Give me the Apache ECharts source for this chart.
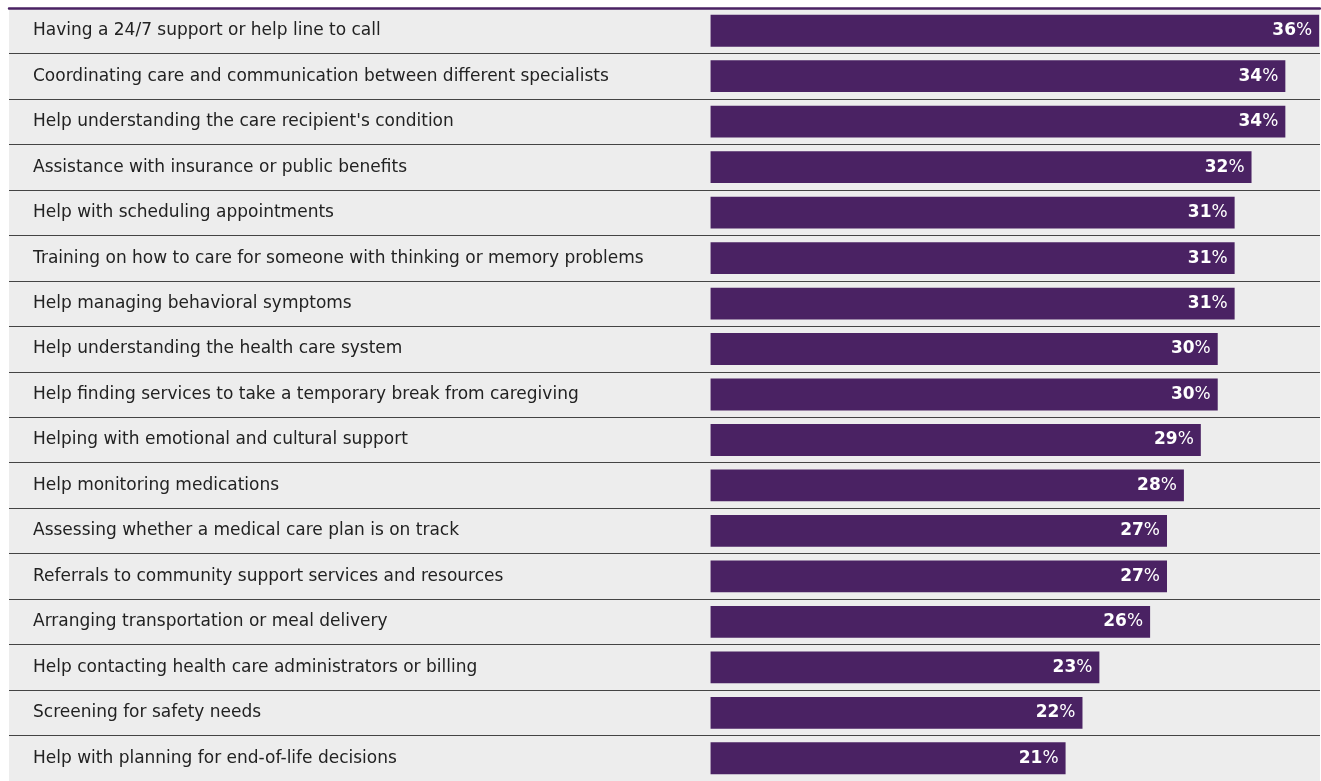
<!DOCTYPE html>
<html><head><meta charset="utf-8">
<script src="https://cdn.jsdelivr.net/npm/echarts@6/dist/echarts.min.js"></script>
<style>html,body{margin:0;padding:0;background:#fff}#c{width:1321px;height:781px}</style>
</head><body><div id="c"></div>
<script>
const categories = [
  "Having a 24/7 support or help line to call",
  "Coordinating care and communication between different specialists",
  "Help understanding the care recipient's condition",
  "Assistance with insurance or public benefits",
  "Help with scheduling appointments",
  "Training on how to care for someone with thinking or memory problems",
  "Help managing behavioral symptoms",
  "Help understanding the health care system",
  "Help finding services to take a temporary break from caregiving",
  "Helping with emotional and cultural support",
  "Help monitoring medications",
  "Assessing whether a medical care plan is on track",
  "Referrals to community support services and resources",
  "Arranging transportation or meal delivery",
  "Help contacting health care administrators or billing",
  "Screening for safety needs",
  "Help with planning for end-of-life decisions"
];
const values = [36, 34, 34, 32, 31, 31, 31, 30, 30, 29, 28, 27, 27, 26, 23, 22, 21];

const chart = echarts.init(document.getElementById('c'), null, {renderer: 'canvas'});
chart.setOption({
  animation: false,
  backgroundColor: '#ffffff',
  grid: {left: 9, right: 1, top: 8, bottom: 0, show: true, backgroundColor: '#ededed', borderWidth: 0},
  xAxis: {
    type: 'value', position: 'top', min: -41.5, max: 36.05,
    axisLine: {show: true, onZero: false, lineStyle: {color: '#4a2263', width: 2.5}},
    axisTick: {show: false}, axisLabel: {show: false}, splitLine: {show: false}
  },
  yAxis: {
    type: 'category', inverse: true, data: categories,
    axisLine: {show: false}, axisTick: {show: false},
    axisLabel: {inside: true, align: 'left', margin: 24, color: '#222', fontSize: 17, fontFamily: 'DejaVu Sans', padding: [4, 0, 0, 0]},
    splitLine: {show: true, lineStyle: {color: '#444', width: 1.2}}
  },
  series: [{
    type: 'bar', data: values, barCategoryGap: '30%',
    itemStyle: {color: '#4a2263'},
    label: {
      show: true, position: 'insideRight', distance: 7,
      formatter: p => '{n|' + p.value + '}{p|%}',
      rich: {
        n: {color: '#fff', fontSize: 17, fontWeight: 'bold', fontFamily: 'DejaVu Sans'},
        p: {color: '#fff', fontSize: 17, fontWeight: 'normal', fontFamily: 'DejaVu Sans'}
      }
    }
  }]
});
</script></body></html>
